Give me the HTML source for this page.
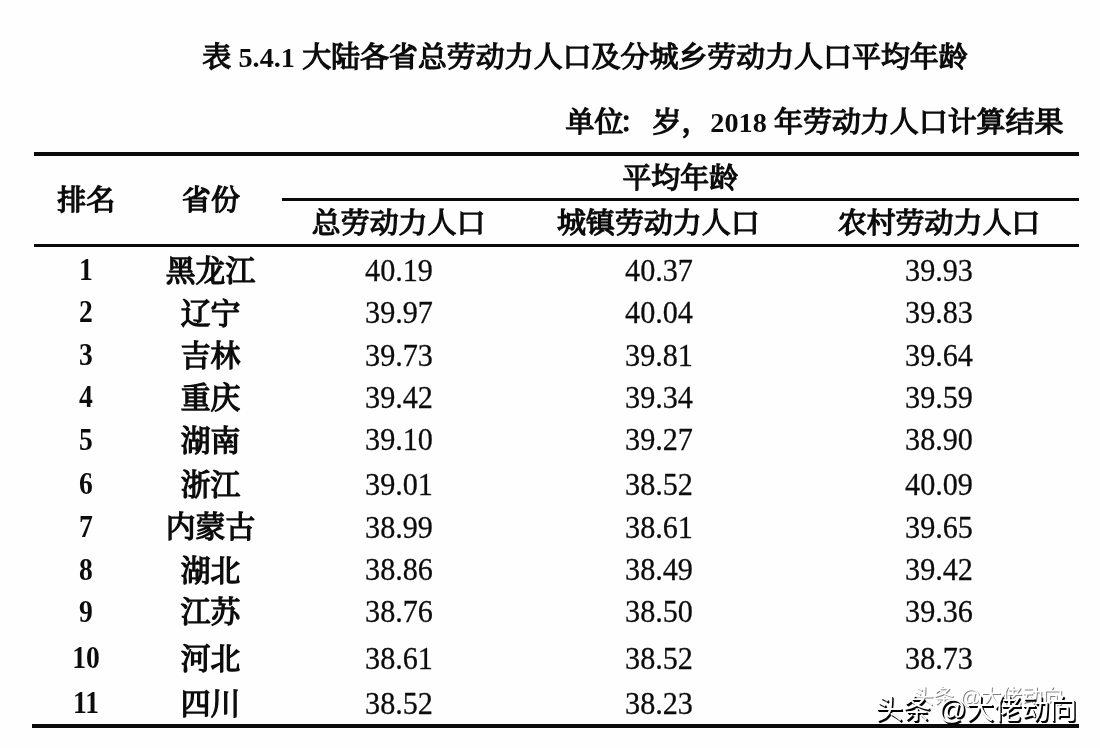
<!DOCTYPE html>
<html lang="zh-CN"><head><meta charset="utf-8"><title>表 5.4.1</title>
<style>
html,body{margin:0;padding:0;background:#fefefe;}
body{width:1100px;height:748px;position:relative;overflow:hidden;color:#0c0c0c;
 font-family:"Liberation Serif","Noto Serif CJK SC",serif;}
.t{position:absolute;white-space:nowrap;line-height:1;transform:translateX(-50%);}
.h{font-weight:400;font-size:28.95px;-webkit-text-stroke:1.4px #0c0c0c;}
.h b{font-weight:700;-webkit-text-stroke:0;font-size:.975em;}
.n{font-size:30.2px;-webkit-text-stroke:.25px #0c0c0c;transform:translateX(-50%) scaleY(1.075);transform-origin:50% 25px;}
.b{font-weight:700;font-size:30px;transform:translateX(-50%) scale(.92,1.05);transform-origin:50% 25px;}
.p{font-weight:400;font-size:29.8px;-webkit-text-stroke:1.4px #0c0c0c;}
.rule{position:absolute;background:#0a0a0a;}
.wm{position:absolute;white-space:nowrap;line-height:1;font-family:"Liberation Sans","Noto Sans CJK SC",sans-serif;font-size:27.6px;color:#fff;text-shadow:1px 1px 0 #000,1.6px 1.6px 0 #000;}
.wm.g{font-size:20.6px;text-shadow:1px 1px 0 rgba(0,0,0,.5);}
.pc{position:relative;left:-4px;}
</style></head><body>
<div class="rule" style="left:33.9px;top:151.7px;width:1045px;height:3.9px;"></div>
<div class="rule" style="left:282px;top:197.8px;width:796.9px;height:3.7px;"></div>
<div class="rule" style="left:33.9px;top:243.7px;width:1045px;height:3.6px;"></div>
<div class="rule" style="left:31.8px;top:724.1px;width:1047.1px;height:3.8px;"></div>
<div class="t h" style="left:585px;top:43.00px;">表 <b>5.4.1</b> 大陆各省总劳动力人口及分城乡劳动力人口平均年龄</div>
<div class="t h" style="left:814.5px;top:108.20px;">单位<span class="pc">：</span>岁，<b>2018</b> 年劳动力人口计算结果</div>
<div class="t h" style="left:86.2px;top:186.00px;">排名</div>
<div class="t h" style="left:211px;top:186.00px;">省份</div>
<div class="t h" style="left:680.3px;top:163.60px;">平均年龄</div>
<div class="t h" style="left:398.6px;top:208.60px;">总劳动力人口</div>
<div class="t h" style="left:658.4px;top:208.60px;">城镇劳动力人口</div>
<div class="t h" style="left:939px;top:208.60px;">农村劳动力人口</div>
<div class="t b" style="left:86px;top:255.40px;">1</div>
<div class="t p" style="left:210.5px;top:255.50px;">黑龙江</div>
<div class="t n" style="left:399px;top:255.80px;">40.19</div>
<div class="t n" style="left:659px;top:255.80px;">40.37</div>
<div class="t n" style="left:939px;top:255.80px;">39.93</div>
<div class="t b" style="left:86px;top:297.20px;">2</div>
<div class="t p" style="left:210.5px;top:298.75px;">辽宁</div>
<div class="t n" style="left:399px;top:297.60px;">39.97</div>
<div class="t n" style="left:659px;top:297.60px;">40.04</div>
<div class="t n" style="left:939px;top:297.60px;">39.83</div>
<div class="t b" style="left:86px;top:340.10px;">3</div>
<div class="t p" style="left:210.5px;top:340.75px;">吉林</div>
<div class="t n" style="left:399px;top:340.50px;">39.73</div>
<div class="t n" style="left:659px;top:340.50px;">39.81</div>
<div class="t n" style="left:939px;top:340.50px;">39.64</div>
<div class="t b" style="left:86px;top:382.20px;">4</div>
<div class="t p" style="left:210.5px;top:383.00px;">重庆</div>
<div class="t n" style="left:399px;top:382.60px;">39.42</div>
<div class="t n" style="left:659px;top:382.60px;">39.34</div>
<div class="t n" style="left:939px;top:382.60px;">39.59</div>
<div class="t b" style="left:86px;top:424.60px;">5</div>
<div class="t p" style="left:210.5px;top:425.80px;">湖南</div>
<div class="t n" style="left:399px;top:425.00px;">39.10</div>
<div class="t n" style="left:659px;top:425.00px;">39.27</div>
<div class="t n" style="left:939px;top:425.00px;">38.90</div>
<div class="t b" style="left:86px;top:469.20px;">6</div>
<div class="t p" style="left:210.5px;top:469.60px;">浙江</div>
<div class="t n" style="left:399px;top:469.60px;">39.01</div>
<div class="t n" style="left:659px;top:469.60px;">38.52</div>
<div class="t n" style="left:939px;top:469.60px;">40.09</div>
<div class="t b" style="left:86px;top:512.10px;">7</div>
<div class="t p" style="left:210.5px;top:512.30px;">内蒙古</div>
<div class="t n" style="left:399px;top:512.50px;">38.99</div>
<div class="t n" style="left:659px;top:512.50px;">38.61</div>
<div class="t n" style="left:939px;top:512.50px;">39.65</div>
<div class="t b" style="left:86px;top:554.60px;">8</div>
<div class="t p" style="left:210.5px;top:555.60px;">湖北</div>
<div class="t n" style="left:399px;top:555.00px;">38.86</div>
<div class="t n" style="left:659px;top:555.00px;">38.49</div>
<div class="t n" style="left:939px;top:555.00px;">39.42</div>
<div class="t b" style="left:86px;top:596.80px;">9</div>
<div class="t p" style="left:210.5px;top:596.80px;">江苏</div>
<div class="t n" style="left:399px;top:597.20px;">38.76</div>
<div class="t n" style="left:659px;top:597.20px;">38.50</div>
<div class="t n" style="left:939px;top:597.20px;">39.36</div>
<div class="t b" style="left:86px;top:643.40px;">10</div>
<div class="t p" style="left:210.5px;top:644.10px;">河北</div>
<div class="t n" style="left:399px;top:643.80px;">38.61</div>
<div class="t n" style="left:659px;top:643.80px;">38.52</div>
<div class="t n" style="left:939px;top:643.80px;">38.73</div>
<div class="t b" style="left:86px;top:688.30px;">11</div>
<div class="t p" style="left:210.5px;top:689.30px;">四川</div>
<div class="t n" style="left:399px;top:688.70px;">38.52</div>
<div class="t n" style="left:659px;top:688.70px;">38.23</div>
<div class="wm g" style="left:913px;top:687px;">头条 @大佬动向</div>
<div class="wm" style="left:875.5px;top:696.2px;">头条 @大佬动向</div>
</body></html>
